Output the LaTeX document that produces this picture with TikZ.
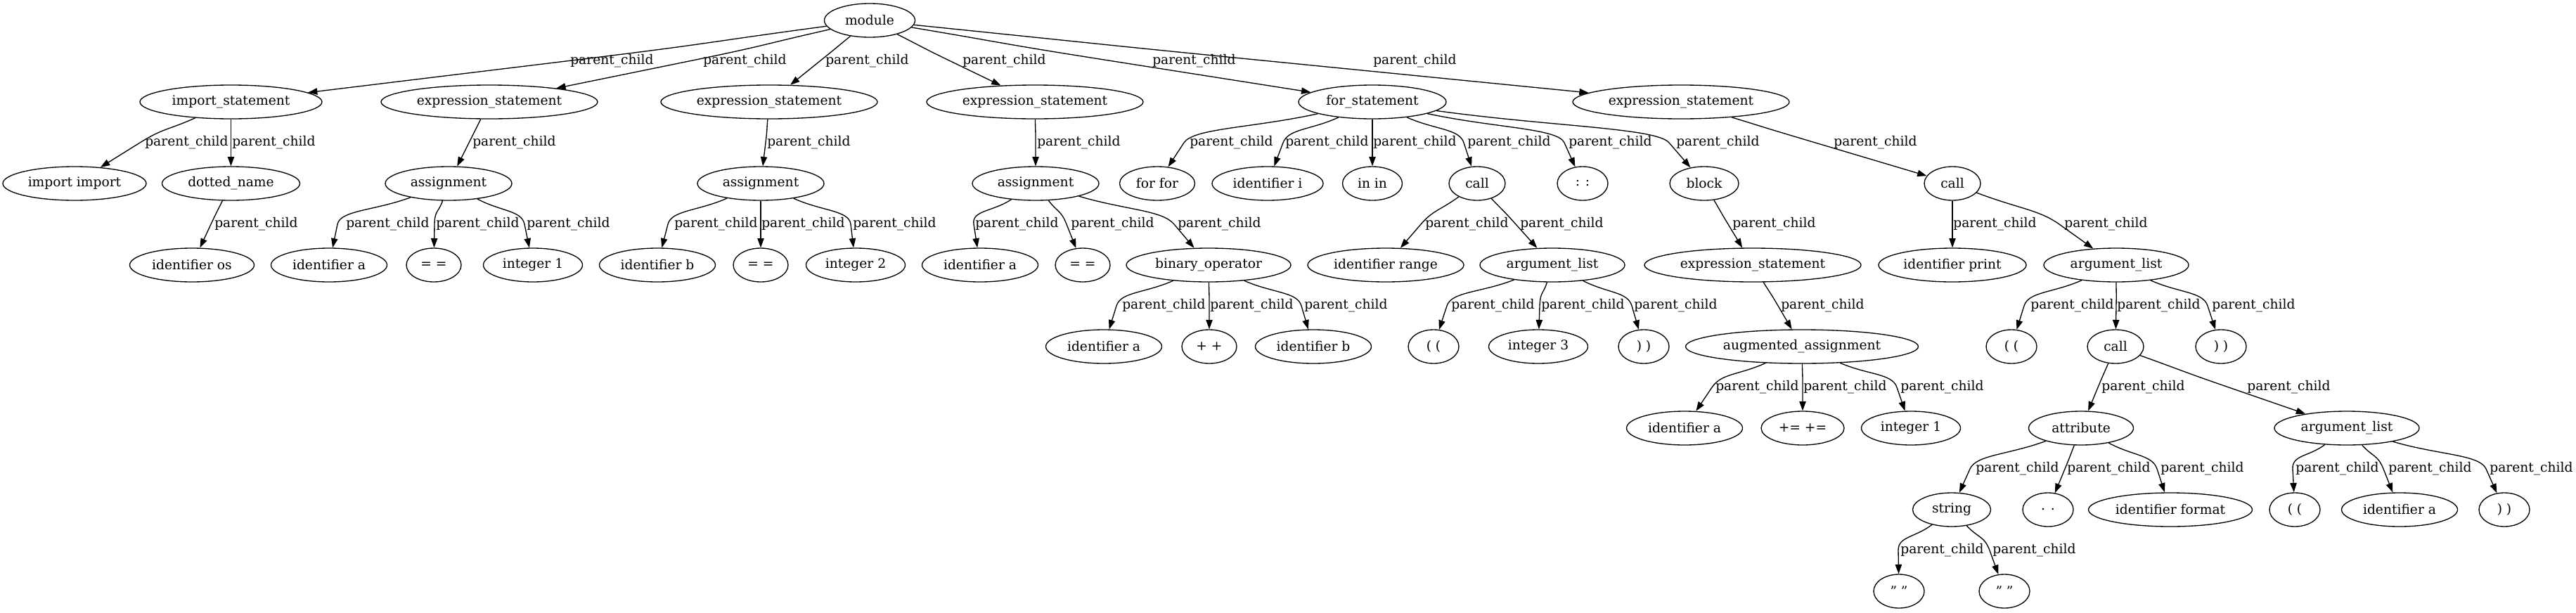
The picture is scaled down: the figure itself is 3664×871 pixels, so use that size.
\documentclass[tikz,border=0pt]{standalone}
\usepackage{fontspec}
\setmainfont{DejaVu Serif}
\usetikzlibrary{arrows.meta,shapes.geometric,calc}
\tikzset{
  gv/.style={draw, ellipse, line width=1pt, inner sep=0pt,
    minimum width={#1*0.75pt}, minimum height=36pt, font=\fontsize{14pt}{16pt}\selectfont},
  lab/.style={anchor=west, inner sep=0pt, font=\fontsize{14pt}{16pt}\selectfont},
  edgeline/.style={line width=1pt, -{Triangle[length=10pt,width=7pt]}}
}
\newcommand\pc[6]{%
  \coordinate (#6w) at (#3,#5);
  \path (#1) -- (#6w) coordinate[pos=0] (#6s);
  \path (#6w) -- (#2) coordinate[pos=1] (#6e);
  \draw[edgeline] (#6s) .. controls ($(#6s)!0.5!(#6w)$) and ($(#6w)!-0.6!(#6e)$) .. (#6w) -- (#6e);
  \node[lab] (#6) at (#4,#5) {parent\_child};
}
\begin{document}
\begin{tikzpicture}[x=0.75pt,y=-0.75pt]
\useasboundingbox (0,0) rectangle (3664,871);
% level 1
\node[gv=129] (module) at (1237,29) {module};
% level 2
\node[gv=259] (imp) at (328.5,145) {import\_statement};
\node[gv=308] (es1) at (696,145) {expression\_statement};
\node[gv=308] (es2) at (1094,145) {expression\_statement};
\node[gv=308] (es3) at (1472,145) {expression\_statement};
\node[gv=210] (forst) at (1952,145) {for\_statement};
\node[gv=308] (es4) at (2391,145) {expression\_statement};
% level 3
\node[gv=204] (impimp) at (106,261) {import import};
\node[gv=196] (dotted) at (328.5,261) {dotted\_name};
\node[gv=180] (as1) at (638,261) {assignment};
\node[gv=180] (as2) at (1082,261) {assignment};
\node[gv=180] (as3) at (1473,261) {assignment};
\node[gv=107] (forfor) at (1646,261) {for for};
\node[gv=158] (idi) at (1803,261) {identifier i};
\node[gv=85] (inin) at (1952,261) {in in};
\node[gv=80] (call1) at (2101,261) {call};
\node[gv=72] (colon) at (2251,261) {: :};
\node[gv=98] (block) at (2424,261) {block};
\node[gv=80] (call2) at (2777,261) {call};
% level 4
\node[gv=177] (idos) at (273,377) {identifier os};
\node[gv=165] (ida1) at (468,377) {identifier a};
\node[gv=78] (eq1) at (617,377) {= =};
\node[gv=141] (int1) at (758,377) {integer 1};
\node[gv=165] (idb) at (935,377) {identifier b};
\node[gv=78] (eq2) at (1082,377) {= =};
\node[gv=141] (int2) at (1217,377) {integer 2};
\node[gv=165] (ida2) at (1394,377) {identifier a};
\node[gv=78] (eq3) at (1540,377) {= =};
\node[gv=234] (binop) at (1719,377) {binary\_operator};
\node[gv=222] (idrange) at (1971,377) {identifier range};
\node[gv=206] (al1) at (2208,377) {argument\_list};
\node[gv=308] (es5) at (2493,377) {expression\_statement};
\node[gv=210] (idprint) at (2777,377) {identifier print};
\node[gv=206] (al2) at (3010,377) {argument\_list};
% level 5
\node[gv=165] (ida3) at (1570,493) {identifier a};
\node[gv=78] (plus) at (1720,493) {+ +};
\node[gv=165] (idb2) at (1868,493) {identifier b};
\node[gv=72] (lp1) at (2039,493) {( (};
\node[gv=141] (int3) at (2188,493) {integer 3};
\node[gv=72] (rp1) at (2338,493) {) )};
\node[gv=331] (aug) at (2563,493) {augmented\_assignment};
\node[gv=72] (lp2) at (2861,493) {( (};
\node[gv=80] (call3) at (3009,493) {call};
\node[gv=72] (rp2) at (3159,493) {) )};
% level 6
\node[gv=165] (ida4) at (2396,609) {identifier a};
\node[gv=118] (pluseq) at (2564,609) {+= +=};
\node[gv=141] (int1b) at (2718,609) {integer 1};
\node[gv=149] (attr) at (2960,609) {attribute};
\node[gv=206] (al3) at (3338,609) {argument\_list};
% level 7
\node[gv=111] (str) at (2776,725) {string};
\node[gv=72] (dot) at (2913,725) {. .};
\node[gv=233] (idfmt) at (3087,725) {identifier format};
\node[gv=72] (lp3) at (3264,725) {( (};
\node[gv=165] (ida5) at (3413,725) {identifier a};
\node[gv=72] (rp3) at (3562,725) {) )};
% level 8
\node[gv=72] (q1) at (2701,841) {" "};
\node[gv=72] (q2) at (2851,841) {" "};
% edges
\pc{module}{imp}{805}{811}{87}{e1}
\pc{module}{es1}{980}{1000}{87}{e2}
\pc{module}{es2}{1166}{1174}{87}{e3}
\pc{module}{es3}{1352}{1369}{87}{e4}
\pc{module}{forst}{1583}{1639}{87}{e5}
\pc{module}{es4}{1806}{1953}{87}{e6}
\pc{imp}{impimp}{199}{206}{203}{e7}
\pc{imp}{dotted}{328.5}{330}{203}{e8}
\pc{es1}{as1}{667}{672}{203}{e9}
\pc{es2}{as2}{1089}{1091}{203}{e10}
\pc{es3}{as3}{1473}{1475}{203}{e11}
\pc{forst}{forfor}{1684}{1692}{203}{e12}
\pc{forst}{idi}{1825}{1828}{203}{e13}
\pc{forst}{inin}{1952}{1953}{203}{e14}
\pc{forst}{call1}{2082}{2087}{203}{e15}
\pc{forst}{colon}{2225}{2231}{203}{e16}
\pc{forst}{block}{2374}{2384}{203}{e17}
\pc{es4}{call2}{2582}{2608}{203}{e18}
\pc{dotted}{idos}{300}{305}{319}{e19}
\pc{as1}{ida1}{480}{492}{319}{e20}
\pc{as1}{eq1}{618}{620}{319}{e21}
\pc{as1}{int1}{746}{749}{319}{e22}
\pc{as2}{idb}{950}{959}{319}{e23}
\pc{as2}{eq2}{1082}{1083}{319}{e24}
\pc{as2}{int2}{1210}{1213}{319}{e25}
\pc{as3}{ida2}{1385}{1387}{319}{e26}
\pc{as3}{eq3}{1517}{1523}{319}{e27}
\pc{as3}{binop}{1670}{1675}{319}{e28}
\pc{call1}{idrange}{2021}{2027}{319}{e29}
\pc{call1}{al1}{2156}{2162}{319}{e30}
\pc{block}{es5}{2458}{2464}{319}{e31}
\pc{call2}{idprint}{2777}{2778}{319}{e32}
\pc{call2}{al2}{2929}{2936}{319}{e33}
\pc{binop}{ida3}{1588}{1596}{435}{e34}
\pc{binop}{plus}{1720}{1721}{435}{e35}
\pc{binop}{idb2}{1851}{1855}{435}{e36}
\pc{al1}{lp1}{2058}{2064}{435}{e37}
\pc{al1}{int3}{2190}{2192}{435}{e38}
\pc{al1}{rp1}{2321}{2324}{435}{e39}
\pc{es5}{aug}{2529}{2533}{435}{e40}
\pc{al2}{lp2}{2879}{2888}{435}{e41}
\pc{al2}{call3}{3010}{3011}{435}{e42}
\pc{al2}{rp2}{3140}{3146}{435}{e43}
\pc{aug}{ida4}{2435}{2440}{551}{e44}
\pc{aug}{pluseq}{2564}{2565}{551}{e45}
\pc{aug}{int1b}{2698}{2703}{551}{e46}
\pc{call3}{attr}{2984}{2989}{551}{e47}
\pc{call3}{al3}{3170}{3196}{551}{e48}
\pc{attr}{str}{2802}{2810}{667}{e49}
\pc{attr}{dot}{2937}{2940}{667}{e50}
\pc{attr}{idfmt}{3068}{3073}{667}{e51}
\pc{al3}{lp3}{3261}{3265}{667}{e52}
\pc{al3}{ida5}{3390}{3397}{667}{e53}
\pc{al3}{rp3}{3536}{3541}{667}{e54}
\pc{str}{q1}{2700}{2703}{783}{e55}
\pc{str}{q2}{2830}{2834}{783}{e56}
\end{tikzpicture}
\end{document}
